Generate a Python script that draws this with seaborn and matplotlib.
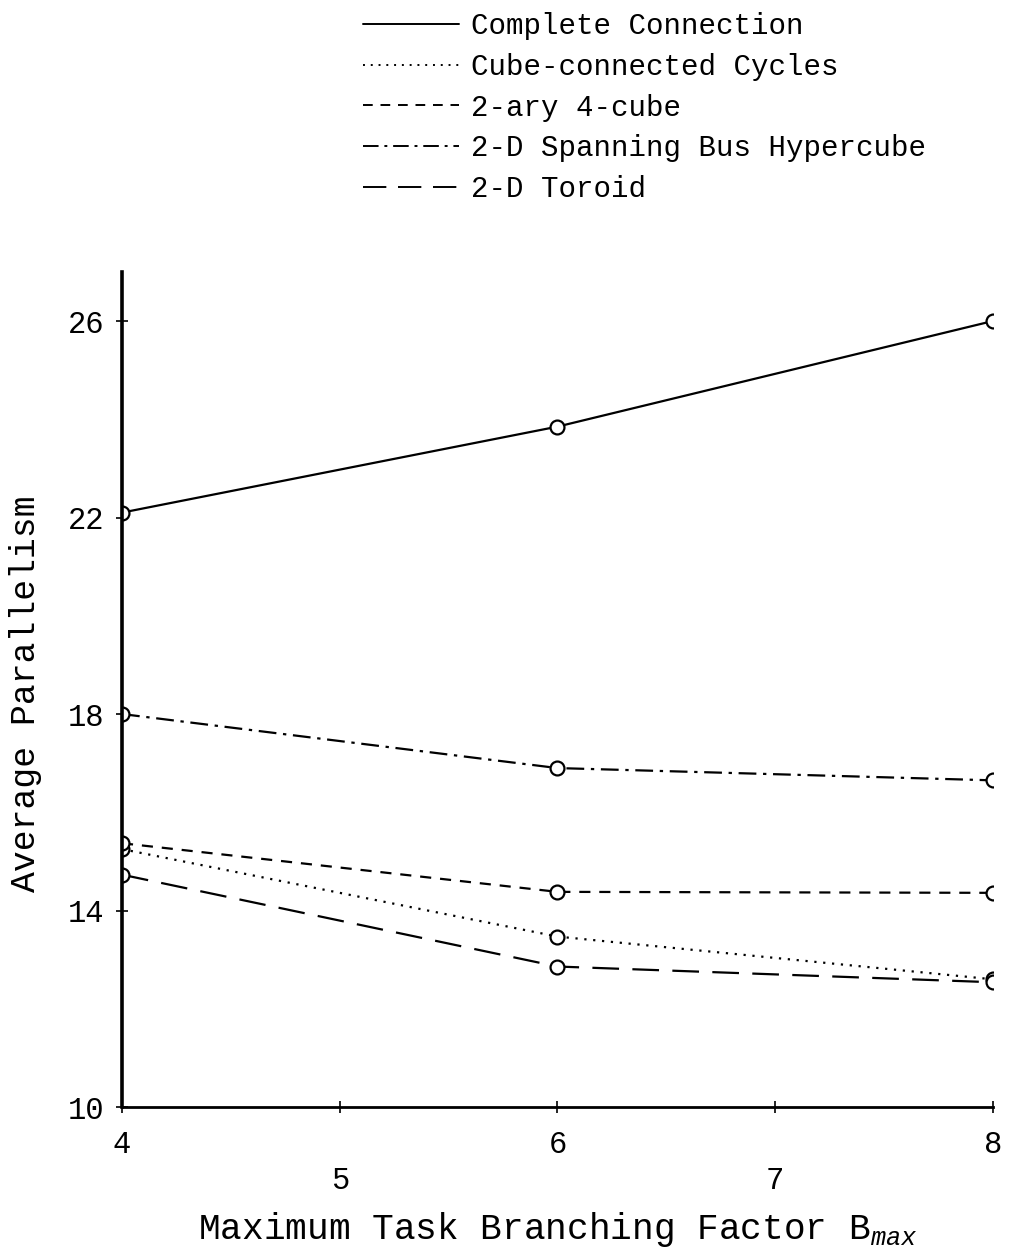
import matplotlib
matplotlib.use("Agg")
import matplotlib.pyplot as plt
import seaborn as sns
import pandas as pd

branching = [4, 6, 8]
complete_connection = [22.1, 23.85, 26.0]
cube_connected_cycles = [15.25, 13.47, 12.6]
two_ary_4cube = [15.37, 14.38, 14.36]
spanning_bus = [18.0, 16.9, 16.65]
toroid_2d = [14.73, 12.86, 12.54]

series_names = ["Complete Connection", "Cube-connected Cycles", "2-ary 4-cube",
                "2-D Spanning Bus Hypercube", "2-D Toroid"]
series_values = [complete_connection, cube_connected_cycles, two_ary_4cube,
                 spanning_bus, toroid_2d]

rows = []
for name, vals in zip(series_names, series_values):
    for x, y in zip(branching, vals):
        rows.append({"B": x, "P": y, "Network": name})
df = pd.DataFrame(rows)

sns.set_theme(style="white")
plt.rcParams["font.family"] = ["Liberation Mono", "DejaVu Sans Mono"]
plt.rcParams["mathtext.fontset"] = "custom"
plt.rcParams["mathtext.it"] = "Liberation Mono:italic"
plt.rcParams["mathtext.rm"] = "Liberation Mono"
plt.rcParams["text.color"] = "black"
plt.rcParams["axes.labelcolor"] = "black"

fig = plt.figure(figsize=(10.1, 12.53), dpi=100)
ax = fig.add_axes([0.1208, 0.1165, 0.983 - 0.1208, 0.783 - 0.1165])

dashes = {
    "Complete Connection": "",
    "Cube-connected Cycles": (1, 3),
    "2-ary 4-cube": (5, 4),
    "2-D Spanning Bus Hypercube": (8, 3, 1.5, 3),
    "2-D Toroid": (12, 6),
}
palette = {n: "black" for n in series_names}

sns.lineplot(data=df, x="B", y="P", hue="Network", style="Network",
             hue_order=series_names, style_order=series_names,
             palette=palette, dashes=dashes,
             markers={n: "o" for n in series_names},
             markersize=10, markerfacecolor="white", markeredgecolor="black",
             markeredgewidth=1.6, linewidth=1.6, ax=ax, legend=False)

ax.set_xlim(4, 8)
ax.set_ylim(10, 27)
ax.set_yticks([10, 14, 18, 22, 26])
ax.set_xticks([4, 5, 6, 7, 8])
ax.set_xticklabels(["4", "\n5", "6", "\n7", "8"], linespacing=1.25)
ax.tick_params(axis="both", direction="inout", length=9, width=1.2,
               labelsize=22, colors="black", left=True, bottom=True)
ax.tick_params(axis="x", pad=12)
ax.tick_params(axis="y", pad=8)
for s in ["top", "right"]:
    ax.spines[s].set_visible(False)
for s in ["left", "bottom"]:
    ax.spines[s].set_color("black")
ax.spines["left"].set_linewidth(2.6)
ax.spines["bottom"].set_linewidth(2)

ax.set_xlabel(r"Maximum Task Branching Factor B$_{max}$", fontsize=26,
              labelpad=10, color="black")
ax.set_ylabel("Average Parallelism", fontsize=25, color="black")
ax.yaxis.set_label_coords(-0.092, 0.495)

handles = ax.get_lines()[:5]
leg = fig.legend(handles, series_names, loc="upper left",
                 bbox_to_anchor=(363 / 1010, 1 - 12 / 1253),
                 frameon=False, fontsize=21, handlelength=3.3,
                 handletextpad=0.4, labelspacing=0.44, borderpad=0,
                 borderaxespad=0)
for ln in leg.get_lines():
    ln.set_marker("None")
    ln.set_linewidth(1.4)
for t in leg.get_texts():
    t.set_color("black")

fig.savefig("out.png", dpi=100, facecolor="white")
